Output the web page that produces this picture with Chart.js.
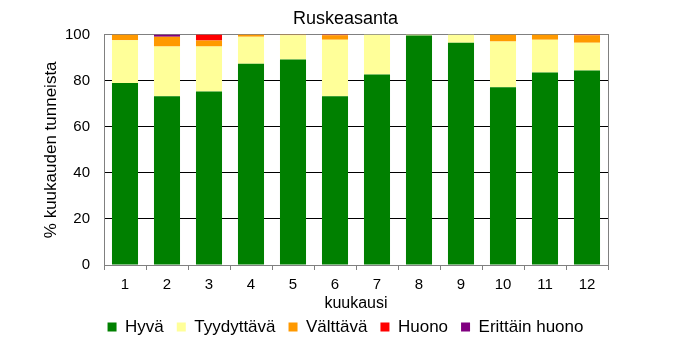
<!DOCTYPE html>
<html>
<head>
<meta charset="utf-8">
<script src="https://cdn.jsdelivr.net/npm/chart.js@4/dist/chart.umd.min.js"></script>
<style>
  html, body { margin: 0; padding: 0; background: #ffffff; }
  #wrap { width: 691px; height: 357px; position: relative; }
</style>
</head>
<body>
<div id="wrap"><canvas id="c" width="691" height="357"></canvas></div>
<script>
const months = ['1', '2', '3', '4', '5', '6', '7', '8', '9', '10', '11', '12'];
const hyva = [79, 73.2, 75.3, 87.4, 89.2, 73.2, 82.7, 99.6, 96.5, 77.1, 83.5, 84.4];
const tyydyttava = [18.5, 21.6, 19.5, 11.7, 10.5, 24.6, 17.3, 0.4, 3.5, 19.9, 14.3, 12.1];
const valttava = [2.5, 4.3, 2.6, 0.9, 0.3, 1.9, 0, 0, 0, 3.0, 2.2, 3.2];
const huono = [0, 0, 2.6, 0, 0, 0.3, 0, 0, 0, 0, 0, 0.3];
const erittainHuono = [0, 0.9, 0, 0, 0, 0, 0, 0, 0, 0, 0, 0];
const seriesNames = ['Hyvä', 'Tyydyttävä', 'Välttävä', 'Huono', 'Erittäin huono'];
const seriesColors = ['#008000', '#FFFF99', '#FF9900', '#FF0000', '#800080'];
const yTicks = [0, 20, 40, 60, 80, 100];
const chartTitle = 'Ruskeasanta';
const xTitle = 'kuukausi';
const yTitle = '% kuukauden tunneista';

Chart.defaults.font.family = '"Liberation Sans", Arial, sans-serif';
Chart.defaults.color = '#000000';

const seriesData = [hyva, tyydyttava, valttava, huono, erittainHuono];
const datasets = seriesData.map((d, i) => ({
  label: seriesNames[i],
  data: d,
  backgroundColor: seriesColors[i],
  borderWidth: 0,
  barPercentage: 0.62,
  categoryPercentage: 1.0
}));

new Chart(document.getElementById('c'), {
  type: 'bar',
  data: { labels: months, datasets: datasets },
  options: {
    responsive: false,
    animation: false,
    layout: { padding: { left: 0, right: 0, top: 0, bottom: 11.5 } },
    plugins: {
      title: {
        display: true,
        text: chartTitle,
        font: { size: 18, weight: 'normal' },
        color: '#000000',
        padding: { top: 8, bottom: 5 }
      },
      legend: {
        position: 'bottom',
        labels: {
          boxWidth: 9,
          boxHeight: 9,
          padding: 13,
          font: { size: 17 },
          color: '#000000'
        }
      },
      tooltip: { enabled: false }
    },
    scales: {
      x: {
        stacked: true,
        afterFit: (s) => { s.height = 40.5; },
        grid: {
          display: true,
          drawOnChartArea: false,
          drawTicks: true,
          tickLength: 5,
          color: '#808080',
          offset: true
        },
        border: { display: true, color: '#808080', width: 1 },
        ticks: { font: { size: 15 }, padding: 6, color: '#000000', maxRotation: 0 },
        title: {
          display: true,
          text: xTitle,
          font: { size: 16 },
          color: '#000000',
          padding: { top: 0, bottom: -7.5 }
        }
      },
      y: {
        stacked: true,
        min: 0,
        max: 100,
        afterFit: (s) => { s.width = 104; },
        afterBuildTicks: (s) => { s.ticks = yTicks.map(v => ({ value: v })); },
        grid: {
          drawTicks: false,
          color: (ctx) => (ctx.tick && (ctx.tick.value === 0 || ctx.tick.value === 100)) ? '#808080' : '#000000',
          lineWidth: 1
        },
        border: { display: true, color: '#808080', width: 1 },
        ticks: { font: { size: 15 }, padding: 14, color: '#000000' },
        title: {
          display: true,
          text: yTitle,
          font: { size: 17 },
          color: '#000000',
          padding: { top: 40.8, bottom: 0 }
        }
      },
      y2: {
        position: 'right',
        min: 0,
        max: 100,
        afterFit: (s) => { s.width = 83; },
        grid: { display: false, drawTicks: false },
        ticks: { display: false },
        border: { display: true, color: '#808080', width: 1 }
      }
    }
  }
});
</script>
</body>
</html>
